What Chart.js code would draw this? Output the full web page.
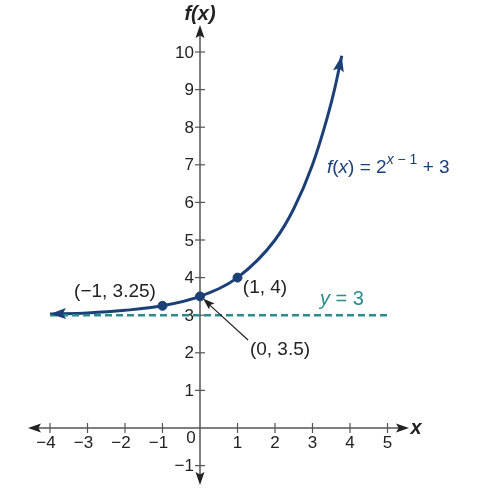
<!DOCTYPE html>
<html>
<head>
<meta charset="utf-8">
<script src="https://cdn.jsdelivr.net/npm/chart.js@4"></script>
<style>
  body { margin: 0; background: #fff; }
</style>
</head>
<body>
<canvas id="expChart" width="487" height="490"></canvas>
<script>
// values
const curveX = [-4, -3, -2, -1, 0, 1, 2, 2.5, 3, 3.4, 3.6, 3.78];
const curveY = [3.03, 3.06, 3.13, 3.25, 3.5, 4, 5, 5.83, 7, 8.28, 9.06, 9.9];
const markX = [-1, 0, 1];
const markY = [3.25, 3.5, 4];
const markLabels = ['(\u22121, 3.25)', '(0, 3.5)', '(1, 4)'];
const asymX = [-4, 5];
const asymY = [3, 3];
const xTicks = [-4, -3, -2, -1, 0, 1, 2, 3, 4, 5];
const yTicks = [-1, 1, 2, 3, 4, 5, 6, 7, 8, 9, 10];

const BLUE = '#1b4078';
const TEAL = '#2a8c8c';
const AXIS = '#555';
const FONT = '"Liberation Sans", Arial, sans-serif';

const toPts = (xs, ys) => xs.map((x, i) => ({ x: x, y: ys[i] }));
const fmt = v => (v < 0 ? '\u2212' + Math.abs(v) : String(v));

function arrowHead(ctx, fromX, fromY, tipX, tipY, len, half, color) {
  const a = Math.atan2(tipY - fromY, tipX - fromX);
  ctx.save();
  ctx.translate(tipX, tipY);
  ctx.rotate(a);
  ctx.beginPath();
  ctx.moveTo(0, 0);
  ctx.lineTo(-len, -half);
  ctx.lineTo(-len * 0.8, 0);
  ctx.lineTo(-len, half);
  ctx.closePath();
  ctx.fillStyle = color;
  ctx.fill();
  ctx.restore();
}

const axesPlugin = {
  id: 'axes',
  beforeDatasetsDraw(chart) {
    const ctx = chart.ctx;
    const xs = chart.scales.x, ys = chart.scales.y;
    const x0 = xs.getPixelForValue(0), y0 = ys.getPixelForValue(0);
    ctx.save();
    ctx.strokeStyle = AXIS;
    ctx.lineWidth = 1.5;
    // x axis
    const xl = 28, xr = 409;
    ctx.beginPath(); ctx.moveTo(xl + 4, y0); ctx.lineTo(xr - 4, y0); ctx.stroke();
    arrowHead(ctx, xr - 20, y0, xr, y0, 13, 4.5, '#222');
    arrowHead(ctx, xl + 20, y0, xl, y0, 13, 4.5, '#222');
    // y axis
    const yt = 25, yb = 485;
    ctx.beginPath(); ctx.moveTo(x0, yt + 4); ctx.lineTo(x0, yb - 4); ctx.stroke();
    arrowHead(ctx, x0, yt + 20, x0, yt, 13, 4.5, '#222');
    arrowHead(ctx, x0, yb - 20, x0, yb, 13, 4.5, '#222');

    ctx.lineWidth = 1.2;
    ctx.fillStyle = '#222';
    ctx.font = '17px ' + FONT;
    xTicks.forEach(v => {
      const px = xs.getPixelForValue(v);
      if (v !== 0) {
        ctx.beginPath(); ctx.moveTo(px, y0 - 5); ctx.lineTo(px, y0 + 5); ctx.stroke();
        ctx.textAlign = 'center'; ctx.textBaseline = 'alphabetic';
        ctx.fillText(fmt(v), px - (v < 0 ? 4 : 0), y0 + 20);
      }
    });
    ctx.textAlign = 'center'; ctx.textBaseline = 'middle';
    ctx.fillText('0', x0 - 9, y0 + 10);
    yTicks.forEach(v => {
      const py = ys.getPixelForValue(v);
      ctx.beginPath(); ctx.moveTo(x0 - 5, py); ctx.lineTo(x0 + 5, py); ctx.stroke();
      ctx.textAlign = 'right'; ctx.textBaseline = 'middle';
      ctx.fillText(fmt(v), x0 - 6, py + 1);
    });

    // axis titles
    ctx.font = 'italic bold 20px ' + FONT;
    ctx.textAlign = 'center'; ctx.textBaseline = 'middle';
    ctx.fillText('f(x)', x0, 14);
    ctx.fillText('x', xr + 7, y0);
    ctx.restore();
  },
  afterDatasetsDraw(chart) {
    const ctx = chart.ctx;
    const xs = chart.scales.x, ys = chart.scales.y;
    ctx.save();
    // curve arrowheads
    const n = curveX.length;
    arrowHead(ctx, xs.getPixelForValue(curveX[n - 2]), ys.getPixelForValue(curveY[n - 2]),
      xs.getPixelForValue(curveX[n - 1]), ys.getPixelForValue(curveY[n - 1]), 16, 5.5, BLUE);
    arrowHead(ctx, xs.getPixelForValue(curveX[1]), ys.getPixelForValue(curveY[1]),
      xs.getPixelForValue(curveX[0]), ys.getPixelForValue(curveY[0]), 16, 5.5, BLUE);

    // point labels
    ctx.font = '19px ' + FONT;
    ctx.fillStyle = '#222';
    ctx.textAlign = 'center'; ctx.textBaseline = 'middle';
    ctx.fillText(markLabels[0], 115, 292);
    ctx.fillText(markLabels[2], 265, 288);
    ctx.fillText(markLabels[1], 280, 350);
    // leader line to (0, 3.5)
    const tx = xs.getPixelForValue(markX[1]) + 3, ty = ys.getPixelForValue(markY[1]) + 2;
    ctx.strokeStyle = '#222'; ctx.lineWidth = 1.2;
    ctx.beginPath(); ctx.moveTo(248, 340); ctx.lineTo(tx + 6, ty + 6); ctx.stroke();
    arrowHead(ctx, 248, 340, tx, ty, 12, 4, '#222');

    // function label
    ctx.fillStyle = BLUE;
    ctx.textAlign = 'left'; ctx.textBaseline = 'alphabetic';
    let x = 327;
    const base = 173;
    const seg = (t, f, dy) => { ctx.font = f; ctx.fillText(t, x, base + (dy || 0)); x += ctx.measureText(t).width; };
    seg('f', 'italic 19px ' + FONT);
    seg('(', '19px ' + FONT);
    seg('x', 'italic 19px ' + FONT);
    seg(') = 2', '19px ' + FONT);
    seg('x', 'italic 14px ' + FONT, -9);
    seg(' \u2212 1', '14px ' + FONT, -9);
    seg(' + 3', '19px ' + FONT);

    // asymptote label
    ctx.fillStyle = TEAL;
    x = 320;
    const b2 = 305;
    ctx.font = 'italic 20px ' + FONT; ctx.fillText('y', x, b2); x += ctx.measureText('y').width;
    ctx.font = '20px ' + FONT; ctx.fillText(' = 3', x, b2);
    ctx.restore();
  }
};

new Chart(document.getElementById('expChart').getContext('2d'), {
  type: 'scatter',
  data: {
    datasets: [
      {
        data: toPts(asymX, asymY),
        showLine: true,
        borderColor: TEAL,
        borderWidth: 2.5,
        borderDash: [7, 4],
        pointRadius: 0
      },
      {
        data: toPts(curveX, curveY),
        showLine: true,
        cubicInterpolationMode: 'monotone',
        borderColor: BLUE,
        borderWidth: 3,
        pointRadius: 0
      },
      {
        data: toPts(markX, markY),
        pointRadius: 4.5,
        pointBackgroundColor: BLUE,
        pointBorderColor: BLUE
      }
    ]
  },
  options: {
    responsive: false,
    animation: false,
    layout: { padding: { left: 12.5, right: 62, top: 14.4, bottom: 5.6 } },
    plugins: { legend: { display: false }, tooltip: { enabled: false } },
    scales: {
      x: { type: 'linear', min: -5, max: 6, display: false },
      y: { type: 'linear', min: -1.5, max: 11, display: false }
    }
  },
  plugins: [axesPlugin]
});
</script>
</body>
</html>
